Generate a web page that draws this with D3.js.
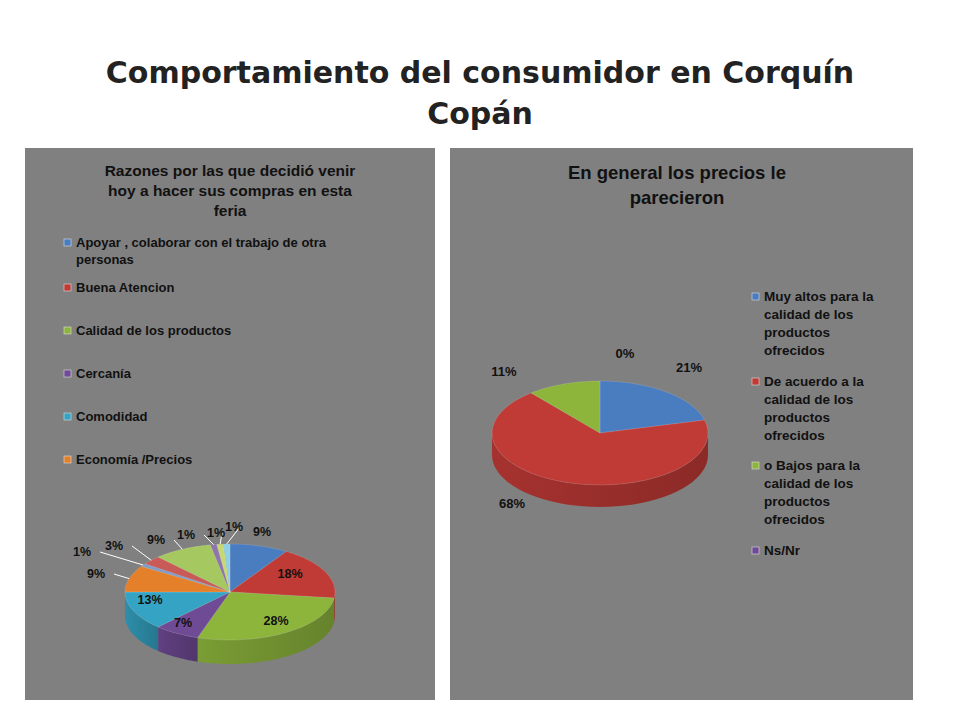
<!DOCTYPE html>
<html><head><meta charset="utf-8">
<script src="https://cdn.jsdelivr.net/npm/d3@7"></script>
<style>body{margin:0;background:#fff}</style>
</head><body><svg id="c" width="960" height="720"></svg>
<script>
// left chart data
const leftCats = ["Apoyar , colaborar con el trabajo de otra personas","Buena Atencion","Calidad de los productos","Cercanía","Comodidad","Economía /Precios","Otro 1","Otro 2","Otro 3","Otro 4","Otro 5","Otro 6"];
const leftVals = [9,18,28,7,13,9,1,3,9,1,1,1];
const leftColors = ["#4a7cc0","#c03a36","#8db53c","#6f4a95","#35a4c4","#e5802a","#7f9cc8","#c85a57","#a6c860","#8f74ae","#c8d870","#8fd0e4"];
// right chart data
const rightCats = ["Muy altos para la calidad de los productos ofrecidos","De acuerdo a la calidad de los productos ofrecidos","o Bajos para la calidad de los productos ofrecidos","Ns/Nr"];
const rightVals = [21,68,11,0];
const rightColors = ["#4a7cc0","#c03a36","#8db53c","#6f4a95"];

const svg = d3.select("#c");
svg.append("text").attr("x",480).attr("y",83).attr("text-anchor","middle")
  .attr("font-family","DejaVu Sans").attr("font-weight","bold").attr("font-size",30).attr("fill","#222")
  .text("Comportamiento del consumidor en Corquín");
svg.append("text").attr("x",480).attr("y",124).attr("text-anchor","middle")
  .attr("font-family","DejaVu Sans").attr("font-weight","bold").attr("font-size",30).attr("fill","#222")
  .text("Copán");

svg.append("rect").attr("x",25).attr("y",148).attr("width",410).attr("height",552).attr("fill","#808080");
svg.append("rect").attr("x",450).attr("y",148).attr("width",463).attr("height",552).attr("fill","#808080");

function txt(x,y,s,size,anchor){
  return svg.append("text").attr("x",x).attr("y",y).attr("text-anchor",anchor||"start")
    .attr("font-family","Liberation Sans, Arial").attr("font-weight","bold").attr("font-size",size).attr("fill","#111").text(s);
}
["Razones por las que decidió venir","hoy a hacer sus compras en esta","feria"].forEach((s,i)=>txt(230,176+i*20,s,15.5,"middle"));
["En general los precios le","parecieron"].forEach((s,i)=>txt(677,179+i*25,s,18.5,"middle"));

function pie3d(vals, colors, cx, cy, rx, ry, depth){
  const g = svg.append("g");
  const arcs = d3.pie().sort(null).value(d=>d)(vals);
  const pt = (a,r,dy)=>[cx + r*rx*Math.sin(a), cy - r*ry*Math.cos(a) + (dy||0)];
  const dark = c => d3.color(c).darker(0.9);
  // sides (front part only)
  arcs.forEach((a,i)=>{
    const s = Math.max(a.startAngle, Math.PI/2), e = Math.min(a.endAngle, 3*Math.PI/2);
    if (e <= s) return;
    const top=[], bot=[];
    for(let k=0;k<=40;k++){const t=s+(e-s)*k/40; top.push(pt(t,1)); bot.push(pt(t,1,depth));}
    const pts = top.concat(bot.reverse());
    const grad = "g"+i+"_"+cx;
    const lg = svg.append("defs").append("linearGradient").attr("id",grad).attr("x1",0).attr("x2",1);
    lg.append("stop").attr("offset",0).attr("stop-color",d3.color(colors[i]).darker(0.4));
    lg.append("stop").attr("offset",1).attr("stop-color",dark(colors[i]));
    g.append("path").attr("d",d3.line()(pts)+"Z").attr("fill",`url(#${grad})`);
  });
  arcs.forEach((a,i)=>{
    if (a.endAngle-a.startAngle<=0) return;
    const pts=[[cx,cy]];
    for(let k=0;k<=40;k++){const t=a.startAngle+(a.endAngle-a.startAngle)*k/40; pts.push(pt(t,1));}
    g.append("path").attr("d",d3.line()(pts)+"Z").attr("fill",colors[i]).attr("stroke","#fff").attr("stroke-opacity",0.25).attr("stroke-width",0.5);
  });
  return {arcs, pt};
}

// left pie
const L = pie3d(leftVals, leftColors, 230, 592, 105, 48, 24);
const leftLabels = [[262,536],[290,578],[276,625],[183,627],[150,604],[96,578],[82,556],[114,550],[156,544],[186,539],[216,537],[234,531]];
L.arcs.forEach((a,i)=>{
  const [x,y]=leftLabels[i];
  if (i>=5){
    const m=(a.startAngle+a.endAngle)/2, p=L.pt(m,1);
    const lx = x + (i<10? 18:6);
    svg.append("polyline").attr("points",`${lx},${y-4} ${p[0]},${p[1]}`).attr("fill","none").attr("stroke","#fff").attr("stroke-width",1);
  }
  txt(x,y,leftVals[i]+"%",12.5,"middle");
});
// left legend (first six entries visible)
const leftLegendLines = [["Apoyar , colaborar con el trabajo de otra","personas"],["Buena Atencion"],["Calidad de los productos"],["Cercanía"],["Comodidad"],["Economía /Precios"]];
const lyPos = [247,292,335,378,421,464];
leftLegendLines.forEach((ls,i)=>{
  svg.append("rect").attr("x",64).attr("y",lyPos[i]-8).attr("width",7).attr("height",7).attr("fill",leftColors[i]).attr("stroke","#ddd").attr("stroke-width",0.6);
  ls.forEach((s,j)=>txt(76,lyPos[i]+j*17,s,13));
});

// right pie
const R = pie3d(rightVals, rightColors, 600, 433, 108, 52, 22);
[[689,372],[512,508],[504,376],[625,358]].forEach((d,i)=>txt(d[0],d[1],rightVals[i]+"%",13,"middle"));
const rightLegendLines = [["Muy altos para la","calidad de los","productos","ofrecidos"],["De acuerdo a la","calidad de los","productos","ofrecidos"],["o Bajos para la","calidad de los","productos","ofrecidos"],["Ns/Nr"]];
const ryPos = [301,386,470,555];
rightLegendLines.forEach((ls,i)=>{
  svg.append("rect").attr("x",752).attr("y",ryPos[i]-8).attr("width",7).attr("height",7).attr("fill",rightColors[i]).attr("stroke","#ddd").attr("stroke-width",0.6);
  ls.forEach((s,j)=>txt(764,ryPos[i]+j*18,s,13.5));
});
</script></body></html>
